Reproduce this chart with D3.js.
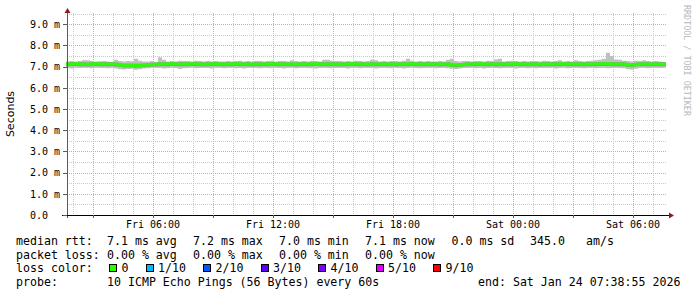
<!DOCTYPE html>
<html>
<head>
<meta charset="utf-8">
<title>smokeping</title>
<style>
  html, body { margin: 0; padding: 0; background: #fff; }
  text { font-family: "DejaVu Sans Mono", monospace; }
</style>
<script src="https://cdn.jsdelivr.net/npm/d3@7"></script>
</head>
<body>
<div id="graph"></div>
<script type="text/javascript">
// 30h window ending Sat Jan 24 07:38:55 2026, 12 minute steps (150 buckets)
var endTime = Date.UTC(2026, 0, 24, 7, 38, 55);
var startTime = endTime - 30 * 3600 * 1000;
var stepMs = 12 * 60 * 1000;

// median rtt (ms)
var median = [
  7.12,7.12,7.13,7.12,7.12,7.11,7.12,7.13,7.12,7.12,
  7.12,7.12,7.11,7.08,7.06,7.06,7.06,7.05,7.06,7.07,
  7.08,7.10,7.11,7.12,7.12,7.12,7.13,7.12,7.12,7.12,
  7.12,7.13,7.12,7.12,7.11,7.12,7.12,7.13,7.12,7.12,
  7.12,7.12,7.13,7.12,7.12,7.12,7.11,7.12,7.12,7.12,
  7.12,7.13,7.12,7.12,7.12,7.12,7.12,7.11,7.12,7.12,
  7.12,7.12,7.13,7.12,7.12,7.12,7.12,7.12,7.11,7.12,
  7.12,7.13,7.12,7.12,7.12,7.11,7.12,7.12,7.12,7.12,
  7.12,7.12,7.11,7.12,7.12,7.12,7.13,7.12,7.12,7.12,
  7.12,7.12,7.12,7.11,7.12,7.12,7.08,7.07,7.08,7.10,
  7.12,7.12,7.12,7.13,7.12,7.12,7.12,7.11,7.12,7.12,
  7.12,7.12,7.13,7.12,7.12,7.12,7.12,7.12,7.11,7.12,
  7.12,7.12,7.12,7.12,7.13,7.12,7.12,7.12,7.12,7.12,
  7.12,7.12,7.12,7.13,7.13,7.13,7.12,7.12,7.12,7.12,
  7.08,7.07,7.10,7.12,7.12,7.12,7.12,7.12,7.12,7.12
];
// smoke: lowest ping per step (ms)
var smokeLow = [
  6.93,6.91,6.94,6.93,6.95,6.94,6.92,6.93,6.94,6.93,
  6.92,6.94,6.91,6.88,6.86,6.89,6.90,6.85,6.88,6.91,
  6.92,6.93,6.94,6.93,6.91,6.92,6.94,6.93,6.89,6.92,
  6.93,6.94,6.92,6.93,6.94,6.93,6.91,6.93,6.94,6.92,
  6.93,6.94,6.92,6.93,6.91,6.93,6.94,6.93,6.92,6.94,
  6.93,6.92,6.94,6.93,6.91,6.93,6.94,6.92,6.93,6.94,
  6.93,6.92,6.91,6.93,6.94,6.93,6.92,6.93,6.94,6.93,
  6.91,6.93,6.94,6.92,6.93,6.94,6.93,6.91,6.93,6.94,
  6.93,6.92,6.94,6.93,6.91,6.93,6.94,6.93,6.92,6.93,
  6.94,6.93,6.92,6.93,6.94,6.92,6.90,6.89,6.91,6.93,
  6.93,6.94,6.92,6.93,6.91,6.93,6.94,6.93,6.92,6.93,
  6.94,6.93,6.91,6.93,6.94,6.92,6.93,6.92,6.94,6.93,
  6.93,6.94,6.91,6.93,6.94,6.92,6.93,6.94,6.93,6.92,
  6.93,6.94,6.92,6.93,6.93,6.92,6.93,6.94,6.93,6.92,
  6.88,6.86,6.90,6.93,6.94,6.92,6.93,6.94,6.93,6.94
];
// smoke: highest ping per step (ms)
var smokeHigh = [
  7.24,7.26,7.24,7.27,7.30,7.30,7.26,7.24,7.25,7.27,
  7.24,7.22,7.32,7.26,7.24,7.26,7.25,7.37,7.28,7.24,
  7.24,7.26,7.22,7.44,7.32,7.24,7.26,7.24,7.28,7.27,
  7.26,7.24,7.28,7.26,7.24,7.27,7.24,7.26,7.24,7.24,
  7.27,7.24,7.26,7.28,7.24,7.26,7.24,7.27,7.26,7.24,
  7.26,7.28,7.24,7.26,7.27,7.24,7.30,7.26,7.24,7.26,
  7.24,7.28,7.26,7.24,7.32,7.32,7.28,7.26,7.27,7.24,
  7.26,7.24,7.28,7.26,7.24,7.26,7.32,7.30,7.24,7.26,
  7.24,7.27,7.26,7.24,7.28,7.37,7.28,7.24,7.26,7.24,
  7.26,7.24,7.24,7.26,7.24,7.32,7.37,7.26,7.24,7.26,
  7.26,7.24,7.27,7.26,7.24,7.28,7.26,7.34,7.37,7.24,
  7.26,7.28,7.26,7.24,7.26,7.24,7.27,7.26,7.24,7.28,
  7.26,7.24,7.27,7.30,7.24,7.26,7.24,7.30,7.26,7.24,
  7.27,7.28,7.30,7.32,7.37,7.65,7.50,7.34,7.32,7.28,
  7.26,7.24,7.28,7.26,7.30,7.26,7.24,7.26,7.24,7.22
];

var yTicks = [0, 1, 2, 3, 4, 5, 6, 7, 8, 9];
var yTickLabels = ["0.0  ", "1.0 m", "2.0 m", "3.0 m", "4.0 m", "5.0 m", "6.0 m", "7.0 m", "8.0 m", "9.0 m"];
var lossLabels = ["0", "1/10", "2/10", "3/10", "4/10", "5/10", "9/10"];
var lossColors = ["#26ff00", "#00b8ff", "#0059ff", "#5e00ff", "#7e00ff", "#dd00ff", "#ff0000"];

var legendRows = [
  [["median rtt:", 16], ["7.1 ms avg", 107], ["7.2 ms max", 193], ["7.0 ms min", 279], ["7.1 ms now", 365], ["0.0 ms sd", 451.5], ["345.0", 530], ["am/s", 586]],
  [["packet loss:", 16], ["0.00 % avg", 107], ["0.00 % max", 193], ["0.00 % min", 279], ["0.00 % now", 365]],
  [["loss color:", 16]],
  [["probe:", 16], ["10 ICMP Echo Pings (56 Bytes) every 60s", 107], ["end: Sat Jan 24 07:38:55 2026", 478]]
];

var w = 697, h = 297;
var svg = d3.select("#graph").append("svg")
    .attr("width", w).attr("height", h)
    .style("display", "block");
svg.append("rect").attr("width", w).attr("height", h).attr("fill", "#fff");

var x = d3.scaleUtc().domain([startTime, endTime]).range([66, 666]);
var y = d3.scaleLinear().domain([0, 9.5]).range([215, 13.6]);

var rows = median.map(function(m, i) {
    return { t: startTime + i * stepMs, med: m, lo: smokeLow[i], hi: smokeHigh[i] };
});
// extend last step to the right edge
var last = rows[rows.length - 1];
rows.push({ t: endTime, med: last.med, lo: last.lo, hi: last.hi });

// grid
var grid = svg.append("g").attr("shape-rendering", "crispEdges");
var minorY = d3.range(0.5, 9.6, 1);
grid.selectAll(".hminor").data(minorY).enter().append("line")
    .attr("x1", 67).attr("x2", 666)
    .attr("y1", d => Math.round(y(d)) + 0.5).attr("y2", d => Math.round(y(d)) + 0.5)
    .attr("stroke", "#c8c8c8").attr("stroke-dasharray", "1,1");
var hourTicks = x.ticks(d3.utcHour.every(1)).filter(d => d.getUTCHours() % 3 != 0);
grid.selectAll(".vminor").data(hourTicks).enter().append("line")
    .attr("x1", d => Math.round(x(d)) + 0.5).attr("x2", d => Math.round(x(d)) + 0.5)
    .attr("y1", 13).attr("y2", 215)
    .attr("stroke", "#c8c8c8").attr("stroke-dasharray", "1,1");
grid.selectAll(".hmajor").data(yTicks.slice(1)).enter().append("line")
    .attr("x1", 67).attr("x2", 666)
    .attr("y1", d => Math.round(y(d)) + 0.5).attr("y2", d => Math.round(y(d)) + 0.5)
    .attr("stroke", "#dca6a6").attr("stroke-dasharray", "1,1");
var majorX = x.ticks(d3.utcHour.every(3));
grid.selectAll(".vmajor").data(majorX).enter().append("line")
    .attr("x1", d => Math.round(x(d)) + 0.5).attr("x2", d => Math.round(x(d)) + 0.5)
    .attr("y1", 13).attr("y2", 215)
    .attr("stroke", "#dca6a6").attr("stroke-dasharray", "1,1");

// smoke
var outer = d3.area().curve(d3.curveStepAfter)
    .x(d => x(d.t)).y0(d => y(d.lo)).y1(d => y(d.hi));
svg.append("path").datum(rows).attr("d", outer).attr("fill", "#c0c0c0");
var inner = d3.area().curve(d3.curveStepAfter)
    .x(d => x(d.t)).y0(d => y(d.med - 0.1)).y1(d => y(d.med + 0.08));
svg.append("path").datum(rows).attr("d", inner).attr("fill", "#939393");

// median line
var line = d3.line().curve(d3.curveStepAfter).x(d => x(d.t)).y(d => y(d.med));
svg.append("path").datum(rows).attr("d", line)
    .attr("fill", "none").attr("stroke", lossColors[0]).attr("stroke-width", 3);

// axes
var axes = svg.append("g").attr("shape-rendering", "crispEdges");
axes.append("line").attr("x1", 67.5).attr("x2", 67.5).attr("y1", 12).attr("y2", 218)
    .attr("stroke", "#5a5a5a");
axes.append("line").attr("x1", 62).attr("x2", 669).attr("y1", 215.5).attr("y2", 215.5)
    .attr("stroke", "#000");
axes.selectAll(".yt").data(yTicks).enter().append("line")
    .attr("x1", 63).attr("x2", 67)
    .attr("y1", d => Math.round(y(d)) + 0.5).attr("y2", d => Math.round(y(d)) + 0.5)
    .attr("stroke", "#5a5a5a");
axes.selectAll(".xt").data(majorX).enter().append("line")
    .attr("x1", d => Math.round(x(d)) + 0.5).attr("x2", d => Math.round(x(d)) + 0.5)
    .attr("y1", 215).attr("y2", 218)
    .attr("stroke", "#5a5a5a");
// arrows
svg.append("path").attr("d", "M64.5,13 L67.5,8 L70.5,13 Z").attr("fill", "#8f1c1c");
svg.append("path").attr("d", "M669,212.5 L674,215.5 L669,218.5 Z").attr("fill", "#8f1c1c");

// tick labels
svg.selectAll(".ylab").data(yTicks).enter().append("text")
    .attr("x", 30).attr("y", d => y(d) + 3.7)
    .attr("font-size", "10px").attr("fill", "#000")
    .style("white-space", "pre")
    .text((d, i) => yTickLabels[i]);
var fmt = d3.utcFormat("%a %H:%M");
svg.selectAll(".xlab").data(x.ticks(d3.utcHour.every(6))).enter().append("text")
    .attr("x", d => x(d)).attr("y", 227.5)
    .attr("text-anchor", "middle")
    .attr("font-size", "10px").attr("fill", "#000")
    .text(d => fmt(d));

// axis title
svg.append("text")
    .attr("transform", "translate(14,114) rotate(-90)")
    .attr("text-anchor", "middle")
    .style("font-family", "'DejaVu Sans', sans-serif")
    .attr("font-size", "11px").attr("fill", "#000")
    .text("Seconds");

// watermark
svg.append("text")
    .attr("transform", "translate(684,5) rotate(90)")
    .attr("font-size", "8.4px").attr("fill", "#b8b8b8")
    .text("RRDTOOL / TOBI OETIKER");

// legend
var baselines = [245, 258.5, 272, 285.5];
legendRows.forEach(function(r, i) {
    svg.selectAll(".lg" + i).data(r).enter().append("text")
        .attr("x", d => d[1]).attr("y", baselines[i])
        .attr("font-size", "11.6px").attr("fill", "#000")
        .style("white-space", "pre")
        .text(d => d[0]);
});
var lx = 109;
lossLabels.forEach(function(lab, i) {
    svg.append("rect")
        .attr("x", lx + 0.5).attr("y", 264.5).attr("width", 7).attr("height", 7)
        .attr("fill", lossColors[i]).attr("stroke", "#000").attr("stroke-width", 1)
        .attr("shape-rendering", "crispEdges");
    svg.append("text")
        .attr("x", lx + 12.5).attr("y", baselines[2])
        .attr("font-size", "11.6px").attr("fill", "#000")
        .text(lab);
    lx += 12.5 + lab.length * 7 + 17;
});
</script>
</body>
</html>
